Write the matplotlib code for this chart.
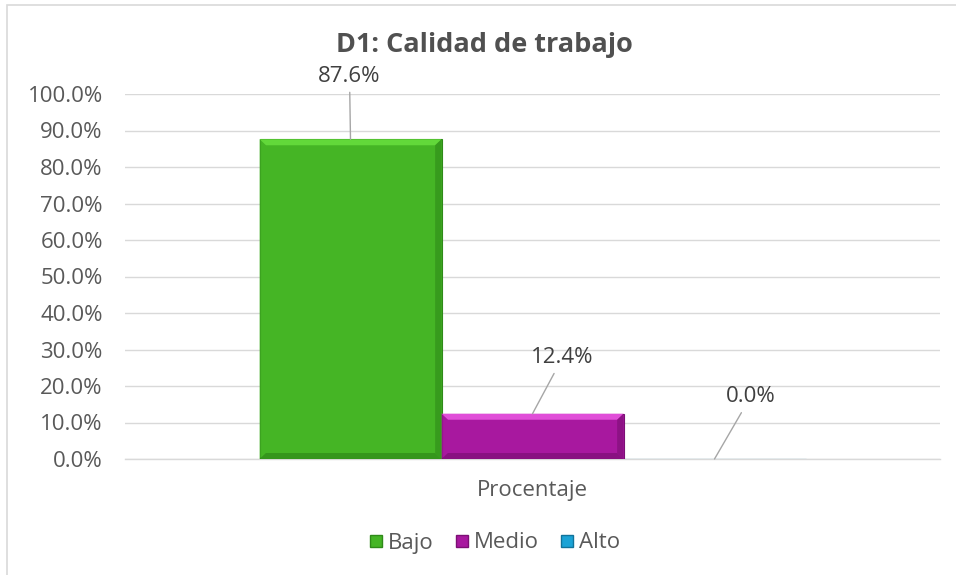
import matplotlib
matplotlib.use("Agg")
import matplotlib.pyplot as plt
from matplotlib.patches import Rectangle, Polygon
from matplotlib.ticker import FuncFormatter
from matplotlib.lines import Line2D

# Data
title = "D1: Calidad de trabajo"
category = "Procentaje"
series = ["Bajo", "Medio", "Alto"]
values = [0.876, 0.124, 0.0]
yticks = [0.0, 0.1, 0.2, 0.3, 0.4, 0.5, 0.6, 0.7, 0.8, 0.9, 1.0]

colors = ["#45B525", "#A8189F", "#1BA3D6"]
light = ["#62D83A", "#E04ED8", "#56D4F5"]
dark = ["#2F8A19", "#7C0F75", "#11739A"]
label_offsets = [(-1, 63), (30, 56), (36, 62)]

plt.rcParams['font.family'] = ['Open Sans', 'DejaVu Sans']

fig = plt.figure(figsize=(9.56, 5.75), dpi=100)
fig.patches.append(Rectangle((7/956, -0.05), 1.2, 1 - 5/575 + 0.05, transform=fig.transFigure,
                             fill=False, edgecolor="#D9D9D9", linewidth=1.2))

ax = fig.add_axes([125/956, 116/575, 815/956, 365/575])
ax.set_xlim(-0.5, 0.5)
ax.set_ylim(0, 1.0)

w = 182/815
offsets = [-w, 0, w]
for i, (s, v) in enumerate(zip(series, values)):
    x = offsets[i]
    ax.bar(x, v, width=w, color=colors[i], edgecolor=dark[i], linewidth=0.8, zorder=3)
    if v > 0:
        x0, x1 = x - w/2, x + w/2
        bx = w * 0.035
        by = 6 / 365
        ax.add_patch(Polygon([(x0, v), (x1, v), (x1 - bx, v - by), (x0 + bx, v - by)],
                             closed=True, facecolor=light[i], edgecolor='none', zorder=4))
        ax.add_patch(Polygon([(x0, v), (x0 + bx, v - by), (x0 + bx, by), (x0, 0)],
                             closed=True, facecolor=colors[i], edgecolor='none', alpha=0.6, zorder=4))
        ax.add_patch(Polygon([(x1, v), (x1 - bx, v - by), (x1 - bx, by), (x1, 0)],
                             closed=True, facecolor=dark[i], edgecolor='none', alpha=0.6, zorder=4))
        ax.add_patch(Polygon([(x0, 0), (x1, 0), (x1 - bx, by), (x0 + bx, by)],
                             closed=True, facecolor=dark[i], edgecolor='none', alpha=0.7, zorder=4))
    ax.annotate(f"{v*100:.1f}%", xy=(x, v), xytext=label_offsets[i], textcoords='offset pixels',
                ha='center', va='center', fontsize=16, color="#404040",
                arrowprops=dict(arrowstyle='-', color="#A6A6A6", lw=1.0, shrinkA=2, shrinkB=0),
                annotation_clip=False, zorder=5)

ax.set_yticks(yticks)
ax.yaxis.set_major_formatter(FuncFormatter(lambda y, p: f"{y*100:.1f}%"))
ax.tick_params(axis='y', length=0, pad=16, labelsize=16, labelcolor="#595959")
ax.set_xticks([0])
ax.set_xticklabels([category])
ax.tick_params(axis='x', length=0, pad=15, labelsize=16, labelcolor="#595959")
ax.grid(axis='y', color="#D9D9D9", linewidth=1.0, zorder=0)
ax.set_axisbelow(True)
for sp in ['top', 'right', 'left']:
    ax.spines[sp].set_visible(False)
ax.spines['bottom'].set_color("#D9D9D9")
ax.spines['bottom'].set_linewidth(1.0)

fig.text(484/956, 1 - 45/575, title, ha='center', va='center', fontsize=19.5, fontweight='bold',
         color="#505050")

handles = [Line2D([], [], marker='s', linestyle='none', markersize=9, markerfacecolor=colors[i],
                  markeredgecolor=dark[i]) for i in range(3)]
fig.legend(handles, series, loc='center', bbox_to_anchor=(493/956, 1 - 543/575), ncol=3,
           frameon=False, fontsize=16, labelcolor="#595959", handletextpad=0.1, columnspacing=0.8,
           handlelength=0.9)

fig.savefig("out.png", dpi=100)
